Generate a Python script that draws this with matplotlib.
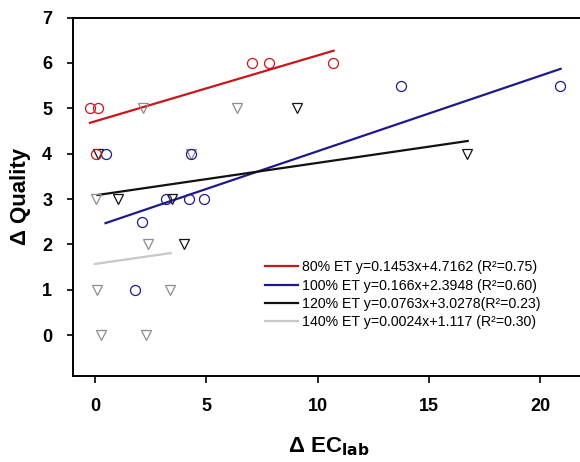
import matplotlib
matplotlib.use("Agg")
import matplotlib.pyplot as plt

plt.rcParams['font.family'] = ['Liberation Sans', 'DejaVu Sans']

# Data points (ΔEC_lab, ΔQuality)
et80_x = [-0.24, 0.13, 0.03, 7.04, 7.82, 10.7]
et80_y = [5.0, 5.0, 4.0, 6.0, 6.0, 6.0]
et100_x = [0.46, 4.29, 3.17, 4.22, 4.88, 2.1, 1.77, 13.77, 20.9]
et100_y = [4.0, 4.0, 3.0, 3.0, 3.0, 2.5, 1.0, 5.5, 5.5]
et120_x = [0.13, 9.05, 1.03, 3.99, 16.74, 3.43]
et120_y = [4.0, 5.0, 3.0, 2.0, 4.0, 3.0]
et140_x = [2.16, 6.36, 4.29, 0.01, 2.35, 0.06, 3.36, 0.27, 2.3]
et140_y = [5.0, 5.0, 4.0, 3.0, 2.0, 1.0, 1.0, 0.0, 0.0]

# Fitted line endpoints as drawn
fit80_x, fit80_y = [-0.24, 10.72], [4.68, 6.27]
fit100_x, fit100_y = [0.46, 20.93], [2.47, 5.87]
fit120_x, fit120_y = [0.1, 16.75], [3.09, 4.28]
fit140_x, fit140_y = [-0.02, 3.39], [1.57, 1.81]

labels = ["80% ET y=0.1453x+4.7162 (R²=0.75)",
          "100% ET y=0.166x+2.3948 (R²=0.60)",
          "120% ET y=0.0763x+3.0278(R²=0.23)",
          "140% ET y=0.0024x+1.117 (R²=0.30)"]

c_red = '#c8161d'
c_blue = '#1f1a8a'
c_black = '#111111'
c_grayline = '#c8c8c8'
c_graymk = '#8c8c8c'

fig = plt.figure(figsize=(5.8, 4.62), dpi=100)
ax = fig.add_axes([0.126, 0.186, 0.874, 0.776])

ms = 7.2
mew = 0.9
ax.plot(et140_x, et140_y, 'v', ms=ms, mfc='none', mec=c_graymk, mew=mew, zorder=3)
ax.plot(et120_x, et120_y, 'v', ms=ms, mfc='none', mec=c_black, mew=mew, zorder=3)
ax.plot(et100_x, et100_y, 'o', ms=ms, mfc='none', mec=c_blue, mew=mew, zorder=3)
ax.plot(et80_x, et80_y, 'o', ms=ms, mfc='none', mec=c_red, mew=mew, zorder=3)

l1, = ax.plot(fit80_x, fit80_y, color=c_red, lw=1.6)
l2, = ax.plot(fit100_x, fit100_y, color=c_blue, lw=1.6)
l3, = ax.plot(fit120_x, fit120_y, color=c_black, lw=1.6)
l4, = ax.plot(fit140_x, fit140_y, color=c_grayline, lw=1.6)

leg = ax.legend([l1, l2, l3, l4], labels, loc='upper left',
                bbox_to_anchor=(0.379, 0.323), frameon=False, fontsize=10.2,
                handlelength=2.3, handletextpad=0.3, labelspacing=0.3,
                borderaxespad=0, borderpad=0)

ax.set_xlim(-1.0, 21.8)
ax.set_ylim(-0.9, 7.0)
ax.set_xticks([0, 5, 10, 15, 20])
ax.set_yticks([0, 1, 2, 3, 4, 5, 6, 7])
ax.spines['right'].set_visible(False)
for s in ['left', 'bottom', 'top']:
    ax.spines[s].set_linewidth(1.4)
ax.tick_params(axis='x', direction='out', length=5, width=1.2, pad=11, labelsize=13)
ax.tick_params(axis='y', direction='out', length=4, width=1.2, pad=11, labelsize=13)
for t in ax.get_xticklabels() + ax.get_yticklabels():
    t.set_fontweight('bold')

ax.set_xlabel('Δ EC$_{\\mathbf{lab}}$', fontsize=16, fontweight='bold')
ax.set_ylabel('Δ Quality', fontsize=16, fontweight='bold')
ax.xaxis.set_label_coords(0.504, -0.165)
ax.yaxis.set_label_coords(-0.083, 0.5)

fig.savefig('out.png', dpi=100)
